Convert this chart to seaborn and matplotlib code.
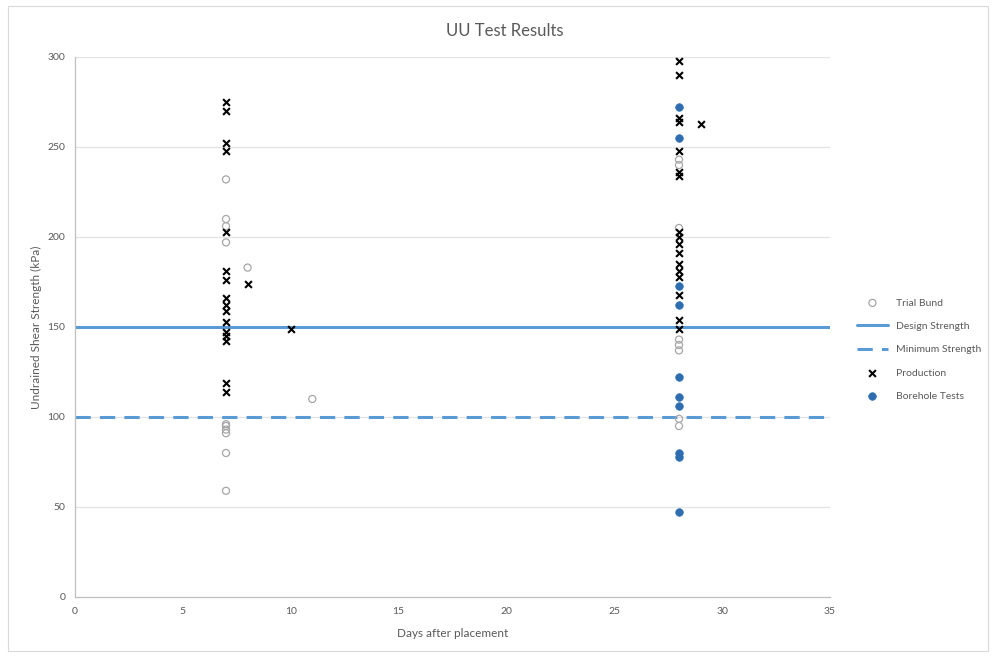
import matplotlib
matplotlib.use("Agg")
import matplotlib.pyplot as plt
from matplotlib.patches import Rectangle
import seaborn as sns
import pandas as pd

# Trial bund results
trial_days = [7, 7, 7, 7, 7, 7, 7, 7, 7, 7, 8, 11,
              28, 28, 28, 28, 28, 28, 28, 28]
trial_kpa = [232, 210, 206, 197, 95, 93, 91, 80, 59, 96, 183, 110,
             243, 240, 205, 143, 140, 137, 99, 95]

# Production results
prod_days = [7, 7, 7, 7, 7, 7, 7, 7, 7, 7, 7, 7, 7, 7, 7, 7, 8, 10,
             28, 28, 28, 28, 28, 28, 28, 28, 28, 28, 28, 28, 28, 28, 28, 28, 28, 29]
prod_kpa = [275, 270, 252, 248, 203, 181, 176, 166, 162, 159, 153, 147, 145, 142, 119, 114, 174, 149,
            298, 290, 266, 264, 248, 236, 234, 203, 200, 196, 191, 185, 181, 178, 168, 154, 149, 263]

# Borehole tests
bore_days = [28, 28, 28, 28, 28, 28, 28, 28, 28, 28]
bore_kpa = [272, 255, 173, 162, 122, 111, 106, 80, 78, 47]

# Reference strengths
design_strength = 150
minimum_strength = 100

x_ticks = [0, 5, 10, 15, 20, 25, 30, 35]
y_ticks = [0, 50, 100, 150, 200, 250, 300]

sns.set_theme(style="white")
plt.rcParams["font.family"] = ["Lato", "DejaVu Sans"]

fig = plt.figure(figsize=(9.95, 6.57), dpi=100)
ax = fig.add_axes([75 / 995, 1 - 597 / 657, 755 / 995, 540 / 657])

# chart border
fig.patches.append(Rectangle((8 / 995, 6 / 657), 980 / 995, 645 / 657,
                             transform=fig.transFigure, fill=False,
                             edgecolor="#D9D9D9", linewidth=0.8))

for y in y_ticks[1:]:
    ax.axhline(y, color="#E3E3E3", linewidth=0.9, zorder=0)

blue = "#5B9BD5"
trial = pd.DataFrame({"days": trial_days, "kpa": trial_kpa})
prod = pd.DataFrame({"days": prod_days, "kpa": prod_kpa})
bore = pd.DataFrame({"days": bore_days, "kpa": bore_kpa})

sns.scatterplot(data=trial, x="days", y="kpa", ax=ax, marker="o", s=26,
                facecolor="none", edgecolor="#A6A6A6", linewidth=0.9,
                label="Trial Bund", zorder=3)
ax.axhline(design_strength, color=blue, linewidth=2.2, label="Design Strength", zorder=2)
ax.axhline(minimum_strength, color=blue, linewidth=2.2, linestyle=(0, (5, 3)),
           label="Minimum Strength", zorder=2)
sns.scatterplot(data=prod, x="days", y="kpa", ax=ax, marker="x", s=24,
                color="black", linewidth=1.5, label="Production", zorder=4)
sns.scatterplot(data=bore, x="days", y="kpa", ax=ax, marker="o", s=30,
                color="#2E6DB0", edgecolor="#2E6DB0", linewidth=0.5,
                label="Borehole Tests", zorder=5)

ax.set_xlim(0, 35)
ax.set_ylim(0, 300)
ax.set_xticks(x_ticks)
ax.set_yticks(y_ticks)
ax.tick_params(axis="both", labelsize=7.5, colors="#595959", length=0, pad=7)
for lab in ax.get_xticklabels() + ax.get_yticklabels():
    lab.set_color("#595959")

for side in ["top", "right"]:
    ax.spines[side].set_visible(False)
for side in ["left", "bottom"]:
    ax.spines[side].set_color("#BFBFBF")
    ax.spines[side].set_linewidth(0.9)

ax.set_xlabel("Days after placement", fontsize=8.5, color="#595959", labelpad=9)
ax.set_ylabel("Undrained Shear Strength (kPa)", fontsize=8.5, color="#595959", labelpad=4)
fig.text(505 / 995, 1 - 31 / 657, "UU Test Results", fontsize=12, color="#595959",
         ha="center", va="center")

leg = ax.legend(loc="center left", bbox_to_anchor=(1.03, 0.458), frameon=False,
                fontsize=7.5, handlelength=3.0, labelspacing=1.35, borderaxespad=0)
for t in leg.get_texts():
    t.set_color("#595959")

fig.savefig("out.png", dpi=100, facecolor="white")
